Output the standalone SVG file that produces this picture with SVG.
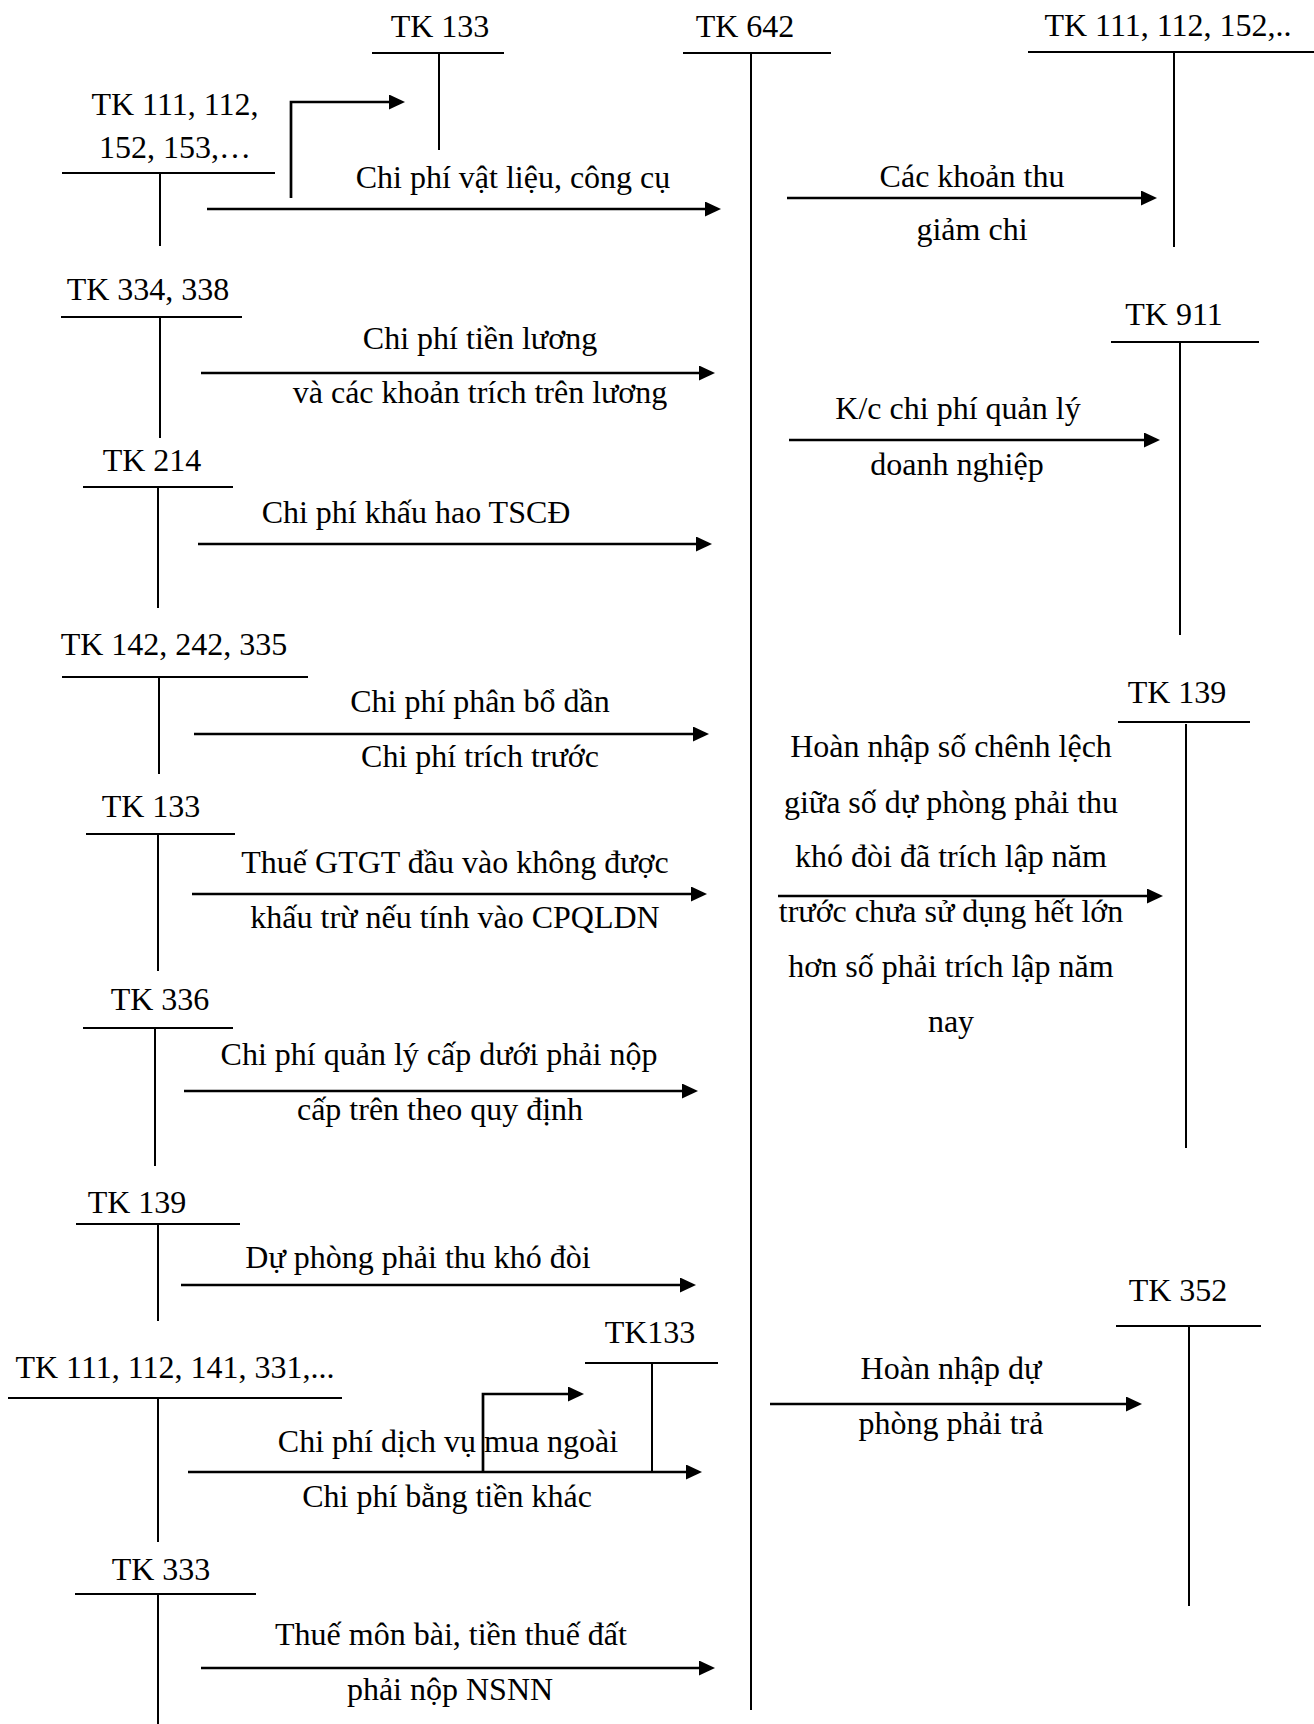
<svg xmlns="http://www.w3.org/2000/svg" width="1314" height="1724" viewBox="0 0 1314 1724">
  <style>
    .t { font-family: "Liberation Serif", "Times New Roman", serif; font-size: 32px; text-anchor: middle; fill: #000; }
    .acc { stroke: #000; stroke-width: 2; fill: none; }
    .flow { stroke: #000; stroke-width: 2.7; fill: none; marker-end: url(#head); }
  </style>
  <defs>
    <marker id="head" markerUnits="userSpaceOnUse" markerWidth="16" markerHeight="15" refX="8" refY="7.5" orient="auto">
      <path d="M0,0 L16,7.5 L0,15 Z" fill="#000"/>
    </marker>
  </defs>
  <rect width="1314" height="1724" fill="#fff"/>

  <!-- T-accounts -->
  <g id="tk133-top">
    <text class="t" x="440" y="37">TK 133</text>
    <path class="acc" d="M372,53 H504 M439,53 V150"/>
  </g>
  <g id="tk642">
    <text class="t" x="745" y="37">TK 642</text>
    <path class="acc" d="M683,53 H831 M751,53 V1710"/>
  </g>
  <g id="tk111-right">
    <text class="t" x="1168" y="36">TK 111, 112, 152,..</text>
    <path class="acc" d="M1028,52 H1314 M1174,53 V247"/>
  </g>
  <g id="tk111-left">
    <text class="t" x="175" y="115">TK 111, 112,</text>
    <text class="t" x="175" y="158">152, 153,…</text>
    <path class="acc" d="M62,173 H275 M160,173 V246"/>
  </g>
  <g id="tk334">
    <text class="t" x="148" y="300">TK 334, 338</text>
    <path class="acc" d="M61,317 H242 M160,317 V438"/>
  </g>
  <g id="tk214">
    <text class="t" x="152" y="471">TK 214</text>
    <path class="acc" d="M83,487 H233 M158,487 V608"/>
  </g>
  <g id="tk142">
    <text class="t" x="174" y="655">TK 142, 242, 335</text>
    <path class="acc" d="M62,677 H308 M159,677 V774"/>
  </g>
  <g id="tk133-left">
    <text class="t" x="151" y="817">TK 133</text>
    <path class="acc" d="M86,834 H235 M158,834 V971"/>
  </g>
  <g id="tk336">
    <text class="t" x="160" y="1010">TK 336</text>
    <path class="acc" d="M83,1028 H233 M155,1028 V1166"/>
  </g>
  <g id="tk139-left">
    <text class="t" x="137" y="1213">TK 139</text>
    <path class="acc" d="M76,1224 H240 M158,1224 V1321"/>
  </g>
  <g id="tk133-bottom">
    <text class="t" x="650" y="1343">TK133</text>
    <path class="acc" d="M585,1363 H718 M652,1363 V1471"/>
  </g>
  <g id="tk111-bottom">
    <text class="t" x="175" y="1378">TK 111, 112, 141, 331,...</text>
    <path class="acc" d="M8,1398 H342 M158,1398 V1542"/>
  </g>
  <g id="tk333">
    <text class="t" x="161" y="1580">TK 333</text>
    <path class="acc" d="M75,1594 H256 M158,1594 V1724"/>
  </g>
  <g id="tk911">
    <text class="t" x="1174" y="325">TK 911</text>
    <path class="acc" d="M1111,342 H1259 M1180,342 V635"/>
  </g>
  <g id="tk139-right">
    <text class="t" x="1177" y="703">TK 139</text>
    <path class="acc" d="M1118,722 H1250 M1186,724 V1148"/>
  </g>
  <g id="tk352">
    <text class="t" x="1178" y="1301">TK 352</text>
    <path class="acc" d="M1116,1326 H1261 M1189,1326 V1606"/>
  </g>

  <!-- Entries -->
  <g id="connectors">
    <path class="flow" d="M291,198 V102 H397"/>
    <path class="flow" d="M207,209 H713"/>
    <text class="t" x="513" y="188">Chi phí vật liệu, công cụ</text>

    <path class="flow" d="M787,198 H1149"/>
    <text class="t" x="972" y="187">Các khoản thu</text>
    <text class="t" x="972" y="240">giảm chi</text>

    <path class="flow" d="M201,373 H707"/>
    <text class="t" x="480" y="349">Chi phí tiền lương</text>
    <text class="t" x="480" y="403">và các khoản trích trên lương</text>

    <path class="flow" d="M789,440 H1152"/>
    <text class="t" x="958" y="419">K/c chi phí quản lý</text>
    <text class="t" x="957" y="475">doanh nghiệp</text>

    <path class="flow" d="M198,544 H704"/>
    <text class="t" x="416" y="523">Chi phí khấu hao TSCĐ</text>

    <path class="flow" d="M194,734 H701"/>
    <text class="t" x="480" y="712">Chi phí phân bổ dần</text>
    <text class="t" x="480" y="767">Chi phí trích trước</text>

    <path class="flow" d="M192,894 H699"/>
    <text class="t" x="455" y="873">Thuế GTGT đầu vào không được</text>
    <text class="t" x="455" y="928">khấu trừ nếu tính vào CPQLDN</text>

    <path class="flow" d="M778,896 H1155"/>
    <text class="t" x="951" y="757">Hoàn nhập số chênh lệch</text>
    <text class="t" x="951" y="813">giữa số dự phòng phải thu</text>
    <text class="t" x="951" y="867">khó đòi đã trích lập năm</text>
    <text class="t" x="951" y="922">trước chưa sử dụng hết lớn</text>
    <text class="t" x="951" y="977">hơn số phải trích lập năm</text>
    <text class="t" x="951" y="1032">nay</text>

    <path class="flow" d="M184,1091 H690"/>
    <text class="t" x="439" y="1065">Chi phí quản lý cấp dưới phải nộp</text>
    <text class="t" x="440" y="1120">cấp trên theo quy định</text>

    <path class="flow" d="M181,1285 H688"/>
    <text class="t" x="418" y="1268">Dự phòng phải thu khó đòi</text>

    <path class="flow" d="M483,1471 V1394 H576"/>
    <path class="flow" d="M188,1472 H694"/>
    <text class="t" x="448" y="1452">Chi phí dịch vụ mua ngoài</text>
    <text class="t" x="447" y="1507">Chi phí bằng tiền khác</text>

    <path class="flow" d="M770,1404 H1134"/>
    <text class="t" x="951" y="1379">Hoàn nhập dự</text>
    <text class="t" x="951" y="1434">phòng phải trả</text>

    <path class="flow" d="M201,1668 H707"/>
    <text class="t" x="451" y="1645">Thuế môn bài, tiền thuế đất</text>
    <text class="t" x="450" y="1700">phải nộp NSNN</text>
  </g>
</svg>
